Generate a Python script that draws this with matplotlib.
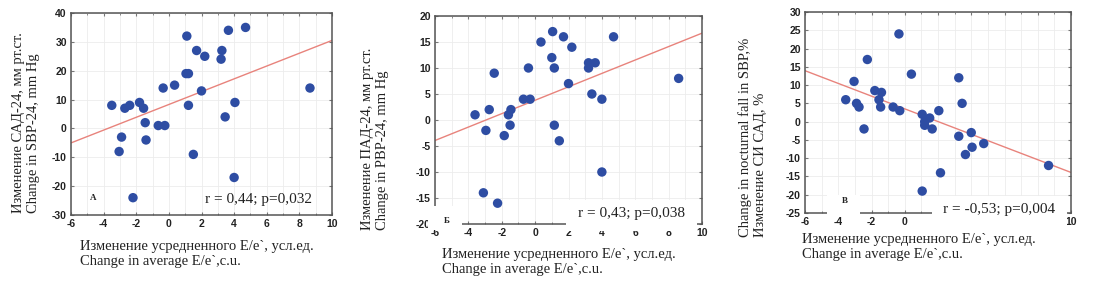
import matplotlib
matplotlib.use("Agg")
import matplotlib.pyplot as plt
from matplotlib.patches import Rectangle
from matplotlib.ticker import MultipleLocator

# panel A: change in SBP-24
ee_a = [-3.5, -2.7, -2.4, -1.8, -1.55, -1.45, -1.4, -2.9, -3.05, -2.2, -0.65, -0.25, -0.35, 0.35,
        1.1, 1.05, 1.2, 1.2, 1.5, 1.7, 2.0, 2.2, 3.25, 3.2, 3.45, 3.65, 4.05, 4.0, 4.7, 8.65]
sbp_a = [8, 7, 8, 9, 7, 2, -4, -3, -8, -24, 1, 1, 14, 15,
         32, 19, 19, 8, -9, 27, 13, 25, 27, 24, 4, 34, 9, -17, 35, 14]
fit_a = (2.22, 8.3)

# panel B: change in PBP-24
ee_b = [-3.6, -2.75, -2.95, -2.45, -3.1, -2.25, -1.6, -1.45, -1.5, -1.85, -0.7, -0.3, -0.4, 0.35,
        1.05, 1.0, 1.15, 1.15, 1.45, 1.7, 2.0, 2.2, 3.2, 3.2, 3.6, 3.4, 4.0, 4.0, 4.7, 8.6]
pbp_b = [1, 2, -2, 9, -14, -16, 1, 2, -1, -3, 4, 4, 10, 15,
         17, 12, 10, -1, -4, 16, 7, 14, 11, 10, 11, 5, 4, -10, 16, 8]
fit_b = (1.29, 3.8)

# panel C: change in nocturnal fall in SBP
ee_c = [-3.55, -3.05, -2.9, -2.75, -2.45, -2.25, -1.8, -1.4, -1.55, -1.45, -0.7, -0.3, -0.35, 0.4,
        1.05, 1.2, 1.2, 1.5, 1.65, 2.05, 2.15, 1.05, 3.25, 3.45, 3.25, 4.0, 4.05, 3.65, 4.75, 8.65]
fall_c = [6, 11, 5, 4, -2, 17, 8.5, 8, 6, 4, 4, 3, 24, 13,
          2, 0, -1, 1, -2, 3, -14, -19, 12, 5, -4, -3, -7, -9, -6, -12]
fit_c = (-1.74, 3.5)

ylabels = ["Изменение САД-24, мм рт.ст.\nChange in SBP-24, mm Hg",
           "Изменение ПАД-24, мм рт.ст.\nChange in PBP-24, mm Hg",
           "Change in nocturnal fall in SBP,%\nИзменение СИ САД, %"]
xlabel = "Изменение усредненного E/e`, усл.ед.\nChange in average E/e`,c.u."
stats = ["r = 0,44; p=0,032", "r = 0,43; p=0,038", "r = -0,53; p=0,004"]
letters = ["А", "Б", "В"]

W, H = 1094, 286
DOT = "#2e4da3"
LINE = "#e8837c"
SERIF = "Liberation Serif"
SANS = "Liberation Sans"

# tick labels are bold Arial-like, plain hyphen minus
plt.rcParams["font.family"] = SANS
plt.rcParams["font.weight"] = "bold"
plt.rcParams["axes.unicode_minus"] = False


def fx(px):
    return px / W


def fy(py):
    return 1 - py / H


fig = plt.figure(figsize=(W / 100, H / 100), dpi=100)

panels = [
    # axes box in pixels: left, top, right, bottom
    dict(box=(71, 13, 332, 215), x=ee_a, y=sbp_a, fit=fit_a, ylim=(-30, 40), ystep=10,
         ylab=(26, 213), xlab=(80, 240), stat=(205, 200), letter=(93, 198), covers=[]),
    dict(box=(435, 16, 702, 224), x=ee_b, y=pbp_b, fit=fit_b, ylim=(-20, 20), ystep=5,
         ylab=(375, 230), xlab=(442, 248), stat=(578, 214), letter=(447, 221),
         covers=[(428, 206, 462, 230), (566, 200, 697, 231)]),
    dict(box=(805, 12, 1071, 213), x=ee_c, y=fall_c, fit=fit_c, ylim=(-25, 30), ystep=5,
         ylab=(753, 237), xlab=(802, 233), stat=(943, 209), letter=(845, 201),
         covers=[(827, 195, 860, 213.7), (932, 196, 1067, 232)]),
]

for i, p in enumerate(panels):
    l, t, r, b = p["box"]
    ax = fig.add_axes([fx(l), fy(b), fx(r - l), (b - t) / H])
    ax.set_xlim(-6, 10)
    ax.set_ylim(*p["ylim"])
    ax.xaxis.set_major_locator(MultipleLocator(2))
    ax.xaxis.set_minor_locator(MultipleLocator(1))
    ax.yaxis.set_major_locator(MultipleLocator(p["ystep"]))
    ax.grid(True, which="both", color="#ececec", lw=0.6)
    ax.set_axisbelow(True)
    for s in ax.spines.values():
        s.set_color("#555555")
        s.set_linewidth(1.1)
    ax.tick_params(which="both", direction="in", top=True, right=True, length=2,
                   color="#777777", labelsize=7.5, labelcolor="#222222", pad=3)
    ax.tick_params(which="minor", length=1.5)

    slope, icpt = p["fit"]
    ax.plot([-6, 10], [icpt + slope * -6, icpt + slope * 10], color=LINE, lw=1.0, zorder=2)
    ax.scatter(p["x"], p["y"], s=46, color=DOT, edgecolors="none", zorder=3)

    for (x0, y0, x1, y1) in p["covers"]:
        fig.add_artist(Rectangle((fx(x0), fy(y1)), fx(x1 - x0), (y1 - y0) / H,
                                 transform=fig.transFigure, facecolor="white",
                                 edgecolor="none", zorder=5))

    fig.text(fx(p["ylab"][0]), fy(p["ylab"][1]), ylabels[i], rotation=90, ha="center",
             va="bottom", multialignment="left", family=SERIF, fontsize=10.5,
             fontweight="normal", color="#222222", zorder=6)
    fig.text(fx(p["xlab"][0]), fy(p["xlab"][1]), xlabel, ha="left", va="top",
             family=SERIF, fontsize=10.5, fontweight="normal", color="#222222", zorder=6)
    fig.text(fx(p["stat"][0]), fy(p["stat"][1]), stats[i], ha="left", va="center",
             family=SERIF, fontsize=11, fontweight="normal", color="#222222", zorder=6)
    fig.text(fx(p["letter"][0]), fy(p["letter"][1]), letters[i], ha="center", va="center",
             family=SERIF, fontsize=6.5, fontweight="bold", color="#222222", zorder=6)

fig.savefig("out.png", dpi=100, facecolor="white")
